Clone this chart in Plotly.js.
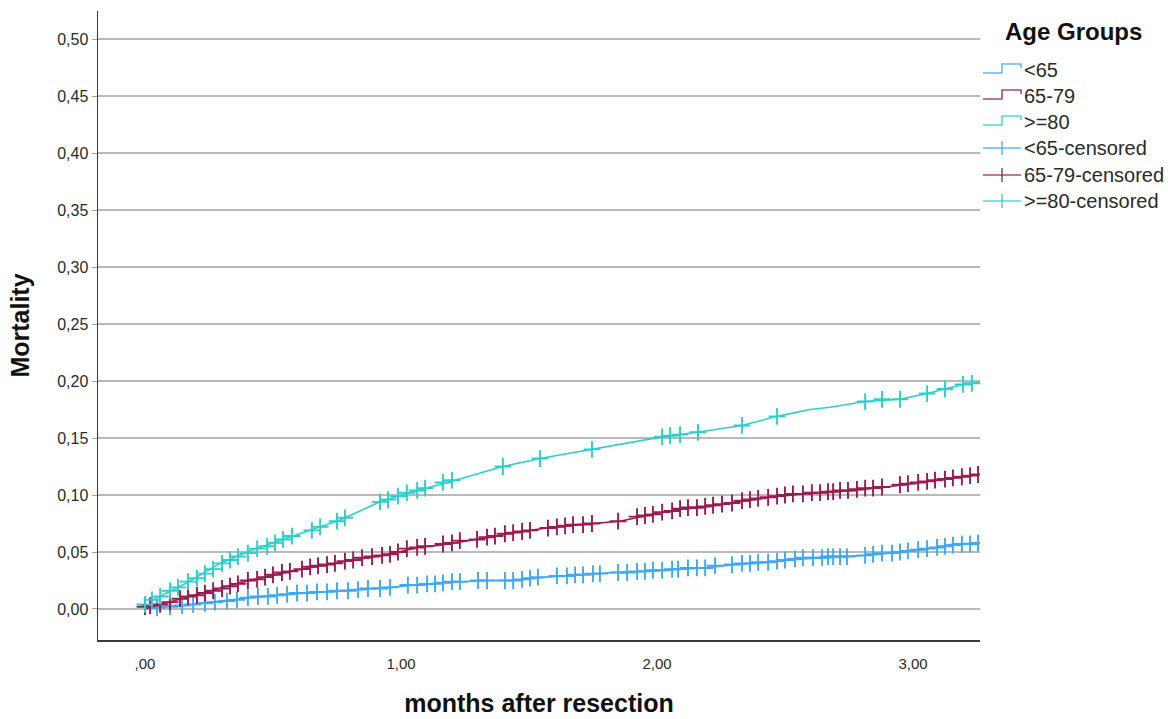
<!DOCTYPE html>
<html>
<head>
<meta charset="utf-8">
<script src="https://cdn.plot.ly/plotly-3.0.1.min.js"></script>
<style>
  html, body { margin: 0; padding: 0; background: #ffffff; }
  #chart { width: 1168px; height: 719px; }
</style>
</head>
<body>
<div id="chart"></div>
<script>
// ---------------- DATA ----------------
const seriesNames = ["<65", "65-79", ">=80"];
const censoredNames = ["<65-censored", "65-79-censored", ">=80-censored"];

// Cumulative mortality curves: time (months) and mortality
const young_t = [0, 0.059, 0.176, 0.371, 0.566, 0.762, 0.957, 1.152, 1.348, 1.438, 1.570, 1.699, 1.828, 1.961, 2.090, 2.180, 2.313, 2.441, 2.570, 2.742, 2.813, 2.961, 3.094, 3.156, 3.262];
const young_v = [0, 0.002, 0.004, 0.009, 0.013, 0.016, 0.019, 0.023, 0.025, 0.025, 0.028, 0.030, 0.032, 0.033, 0.035, 0.036, 0.039, 0.041, 0.044, 0.046, 0.047, 0.050, 0.054, 0.057, 0.058];

const mid_t = [0, 0.059, 0.176, 0.371, 0.566, 0.762, 0.957, 1.063, 1.152, 1.348, 1.438, 1.570, 1.699, 1.855, 1.961, 2.070, 2.180, 2.313, 2.441, 2.570, 2.766, 2.898, 3.027, 3.156, 3.262];
const mid_v = [0, 0.004, 0.011, 0.023, 0.033, 0.041, 0.048, 0.054, 0.056, 0.063, 0.067, 0.071, 0.074, 0.077, 0.082, 0.087, 0.089, 0.094, 0.098, 0.101, 0.104, 0.107, 0.111, 0.115, 0.118];

const old_t = [0, 0.031, 0.164, 0.293, 0.422, 0.555, 0.762, 0.918, 1.063, 1.180, 1.348, 1.398, 1.543, 1.746, 1.895, 2.020, 2.156, 2.332, 2.469, 2.598, 2.676, 2.813, 2.949, 3.055, 3.125, 3.195, 3.262];
const old_v = [0, 0.008, 0.023, 0.040, 0.052, 0.062, 0.078, 0.094, 0.104, 0.111, 0.122, 0.125, 0.132, 0.140, 0.146, 0.151, 0.155, 0.161, 0.169, 0.175, 0.177, 0.182, 0.184, 0.189, 0.193, 0.197, 0.199];

// Censored observations
const youngCens_t = [0.047, 0.098, 0.145, 0.188, 0.234, 0.273, 0.320, 0.359, 0.402, 0.441, 0.480, 0.516, 0.555, 0.594, 0.633, 0.672, 0.711, 0.750, 0.793, 0.832, 0.871, 0.918, 0.957, 1.027, 1.063, 1.102, 1.133, 1.164, 1.199, 1.230, 1.301, 1.336, 1.406, 1.438, 1.473, 1.504, 1.535, 1.609, 1.648, 1.680, 1.711, 1.750, 1.777, 1.848, 1.883, 1.922, 1.953, 1.984, 2.020, 2.059, 2.082, 2.121, 2.156, 2.188, 2.227, 2.293, 2.332, 2.363, 2.395, 2.434, 2.469, 2.500, 2.539, 2.570, 2.609, 2.645, 2.668, 2.688, 2.715, 2.742, 2.813, 2.844, 2.879, 2.918, 2.949, 2.980, 3.020, 3.055, 3.094, 3.125, 3.156, 3.191, 3.223, 3.254];
const youngCens_v = [0.001, 0.002, 0.003, 0.004, 0.005, 0.006, 0.007, 0.008, 0.010, 0.011, 0.011, 0.012, 0.013, 0.014, 0.014, 0.015, 0.015, 0.016, 0.016, 0.017, 0.018, 0.018, 0.019, 0.021, 0.021, 0.022, 0.022, 0.023, 0.024, 0.024, 0.025, 0.025, 0.025, 0.025, 0.026, 0.027, 0.028, 0.029, 0.029, 0.030, 0.030, 0.031, 0.031, 0.032, 0.032, 0.033, 0.033, 0.034, 0.034, 0.035, 0.035, 0.036, 0.036, 0.036, 0.038, 0.039, 0.040, 0.040, 0.041, 0.041, 0.042, 0.043, 0.044, 0.045, 0.045, 0.045, 0.046, 0.046, 0.046, 0.046, 0.047, 0.048, 0.049, 0.049, 0.050, 0.051, 0.052, 0.053, 0.054, 0.055, 0.056, 0.057, 0.057, 0.058];

const midCens_t = [0, 0.020, 0.059, 0.098, 0.137, 0.168, 0.203, 0.234, 0.266, 0.301, 0.332, 0.363, 0.402, 0.438, 0.469, 0.500, 0.535, 0.566, 0.613, 0.645, 0.676, 0.711, 0.742, 0.781, 0.813, 0.848, 0.887, 0.926, 0.957, 0.988, 1.023, 1.063, 1.094, 1.164, 1.199, 1.230, 1.297, 1.336, 1.367, 1.406, 1.438, 1.473, 1.504, 1.574, 1.609, 1.641, 1.672, 1.711, 1.746, 1.848, 1.922, 1.953, 1.984, 2.020, 2.059, 2.090, 2.121, 2.156, 2.188, 2.219, 2.254, 2.293, 2.332, 2.363, 2.395, 2.434, 2.469, 2.500, 2.531, 2.570, 2.605, 2.637, 2.668, 2.688, 2.715, 2.746, 2.781, 2.813, 2.844, 2.879, 2.949, 2.980, 3.020, 3.055, 3.086, 3.125, 3.156, 3.191, 3.223, 3.254];
const midCens_v = [0.002, 0.003, 0.004, 0.006, 0.009, 0.011, 0.012, 0.014, 0.016, 0.018, 0.020, 0.022, 0.025, 0.026, 0.028, 0.030, 0.032, 0.033, 0.035, 0.037, 0.038, 0.039, 0.040, 0.042, 0.043, 0.045, 0.046, 0.047, 0.048, 0.050, 0.053, 0.054, 0.055, 0.057, 0.058, 0.060, 0.061, 0.063, 0.064, 0.066, 0.067, 0.068, 0.069, 0.071, 0.072, 0.073, 0.074, 0.074, 0.075, 0.077, 0.081, 0.082, 0.083, 0.085, 0.086, 0.088, 0.089, 0.089, 0.090, 0.091, 0.092, 0.093, 0.095, 0.096, 0.097, 0.098, 0.099, 0.100, 0.101, 0.101, 0.102, 0.102, 0.103, 0.103, 0.104, 0.104, 0.105, 0.106, 0.106, 0.107, 0.109, 0.110, 0.111, 0.112, 0.113, 0.114, 0.115, 0.116, 0.117, 0.118];

const oldCens_t = [0, 0.027, 0.059, 0.098, 0.129, 0.168, 0.203, 0.234, 0.266, 0.301, 0.332, 0.363, 0.402, 0.438, 0.477, 0.508, 0.539, 0.574, 0.652, 0.684, 0.750, 0.781, 0.918, 0.949, 0.988, 1.023, 1.063, 1.094, 1.164, 1.199, 1.398, 1.543, 1.746, 2.020, 2.051, 2.090, 2.160, 2.332, 2.469, 2.813, 2.879, 2.949, 3.055, 3.125, 3.195, 3.230];
const oldCens_v = [0.004, 0.008, 0.011, 0.016, 0.019, 0.024, 0.027, 0.031, 0.035, 0.040, 0.043, 0.046, 0.049, 0.053, 0.055, 0.058, 0.061, 0.064, 0.069, 0.072, 0.077, 0.080, 0.094, 0.096, 0.099, 0.102, 0.104, 0.106, 0.111, 0.113, 0.125, 0.132, 0.140, 0.151, 0.152, 0.153, 0.155, 0.161, 0.169, 0.182, 0.184, 0.184, 0.189, 0.193, 0.197, 0.198];

const xTickVals = [0, 1, 2, 3];
const xTickText = [",00", "1,00", "2,00", "3,00"];
const yTickVals = [0, 0.05, 0.10, 0.15, 0.20, 0.25, 0.30, 0.35, 0.40, 0.45, 0.50];
const yTickText = ["0,00", "0,05", "0,10", "0,15", "0,20", "0,25", "0,30", "0,35", "0,40", "0,45", "0,50"];

// ---------------- STYLE ----------------
const colors = ["#3ea9f5", "#9b1b50", "#2dcfca"];
const FONT = "Liberation Sans, Arial, Helvetica, sans-serif";
const W = 1168, H = 719;
const M = {l: 98, r: 188, t: 11, b: 79};
const PW = W - M.l - M.r, PH = H - M.t - M.b;
const px = x => (x - M.l) / PW;         // pixel -> paper x
const py = y => (H - M.b - y) / PH;     // pixel -> paper y

function curve(t, v, c) {
  return {x: t, y: v, type: "scatter", mode: "lines", line: {color: c, width: 1.6, shape: "linear"},
          hoverinfo: "skip", showlegend: false, cliponaxis: true};
}
function cens(t, v, c) {
  return {x: t, y: v, type: "scatter", mode: "markers",
          marker: {symbol: "cross-thin", size: 12, color: c, line: {color: c, width: 1.9}},
          hoverinfo: "skip", showlegend: false, cliponaxis: true};
}

const data = [
  curve(young_t, young_v, colors[0]),
  curve(mid_t, mid_v, colors[1]),
  curve(old_t, old_v, colors[2]),
  cens(youngCens_t, youngCens_v, colors[0]),
  cens(midCens_t, midCens_v, colors[1]),
  cens(oldCens_t, oldCens_v, colors[2])
];

// ---------------- custom legend (step icons and censor icons) ----------------
const shapes = [];
const annotations = [];
const itemY = [70, 96, 122, 148, 175, 201];
const allNames = seriesNames.concat(censoredNames);
allNames.forEach((name, i) => {
  const cy = itemY[i];
  const c = colors[i % 3];
  if (i < 3) {
    const p = `M ${px(983)},${py(cy + 3)} L ${px(1002)},${py(cy + 3)} L ${px(1002)},${py(cy - 6)} L ${px(1021)},${py(cy - 6)} L ${px(1021)},${py(cy - 2)}`;
    shapes.push({type: "path", xref: "paper", yref: "paper", path: p, opacity: 0.8, line: {color: c, width: 1.6}});
  } else {
    shapes.push({type: "line", xref: "paper", yref: "paper", x0: px(983), x1: px(1021), y0: py(cy), y1: py(cy), opacity: 0.8, line: {color: c, width: 1.6}});
    shapes.push({type: "line", xref: "paper", yref: "paper", x0: px(1002), x1: px(1002), y0: py(cy - 7), y1: py(cy + 7), opacity: 0.8, line: {color: c, width: 1.6}});
  }
  annotations.push({xref: "paper", yref: "paper", x: px(1022), y: py(cy), xanchor: "left", yanchor: "middle",
                    text: name, showarrow: false, font: {family: FONT, size: 20, color: "#2a2a2a"}});
});
annotations.push({xref: "paper", yref: "paper", x: px(1073), y: py(32), xanchor: "center", yanchor: "middle",
                  text: "<b>Age Groups</b>", showarrow: false, font: {family: FONT, size: 24, color: "#111"}});

const layout = {
  width: W, height: H,
  margin: M,
  paper_bgcolor: "#ffffff", plot_bgcolor: "#ffffff",
  font: {family: FONT, color: "#2a2a2a"},
  showlegend: false,
  xaxis: {
    range: [-0.1836, 3.2617], tickvals: xTickVals, ticktext: xTickText,
    showgrid: false, zeroline: false, showline: true, linecolor: "#3a3a3a", linewidth: 1.5,
    ticks: "outside", ticklen: 9, tickcolor: "rgba(0,0,0,0)",
    tickfont: {family: FONT, size: 15, color: "#2a2a2a"},
    title: {text: "<b>months after resection</b>", font: {family: FONT, size: 25, color: "#111"}, standoff: 24},
    fixedrange: true
  },
  yaxis: {
    range: [-0.0272, 0.5246], tickvals: yTickVals, ticktext: yTickText,
    showgrid: true, gridcolor: "#b9b9b9", gridwidth: 1.2, zeroline: false,
    showline: true, linecolor: "#3a3a3a", linewidth: 1.5,
    ticks: "outside", ticklen: 5, tickcolor: "#a0a0a0",
    tickfont: {family: FONT, size: 16, color: "#2a2a2a"},
    title: {text: "<b>Mortality</b>", font: {family: FONT, size: 25, color: "#111"}, standoff: 20},
    fixedrange: true
  },
  shapes: shapes,
  annotations: annotations
};

Plotly.newPlot("chart", data, layout, {displayModeBar: false, staticPlot: true});
</script>
</body>
</html>
